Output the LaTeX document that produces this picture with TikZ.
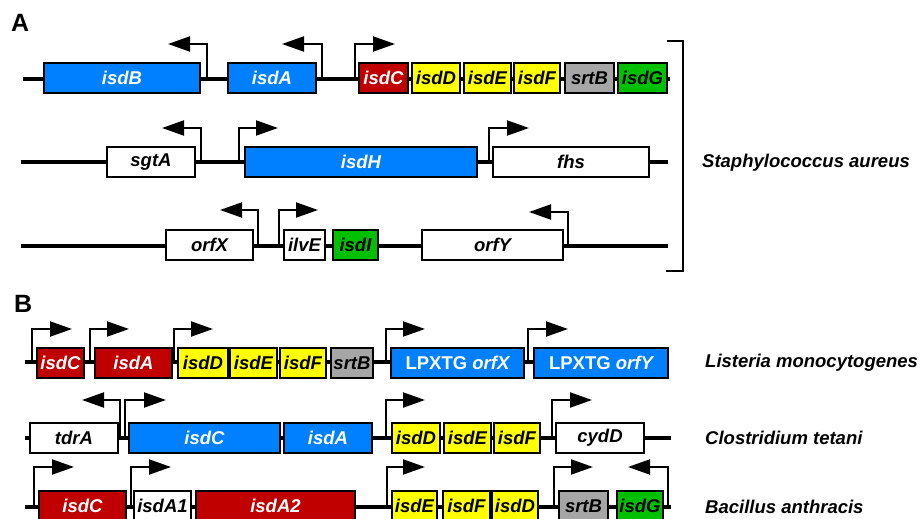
\documentclass[tikz,border=0pt]{standalone}
\usepackage{fontspec}
\setmainfont{Liberation Sans}
\usetikzlibrary{arrows.meta}
\definecolor{gblue}{RGB}{0,128,255}
\definecolor{gred}{RGB}{192,0,0}
\definecolor{gyellow}{RGB}{255,255,0}
\definecolor{ggreen}{RGB}{0,192,0}
\definecolor{ggray}{RGB}{166,166,166}
\newcommand\gbox[6]{\node[genebox,#5,minimum width={(#3-#2)*1pt}] (#1) at ({(#2+#3)/2},#4) {#6};}
\newcommand\prom[5]{\coordinate (#1b) at (#2,#3); \coordinate (#1t) at (#4,#5); \draw[promarrow] (#1b) |- (#1t);}
\newcommand\chrom[4]{\coordinate (#1s) at (#2,#4); \coordinate (#1e) at (#3,#4); \draw[chromline] (#1s) -- (#1e);}
\begin{document}
\begin{tikzpicture}[x=1pt,y=-1pt,
  genebox/.style={draw=black,line width=1.8pt,minimum height=30pt,inner sep=0pt,
    font=\fontsize{18.5}{20}\selectfont\bfseries\itshape},
  blueg/.style={fill=gblue,text=white},
  redg/.style={fill=gred,text=white},
  yellowg/.style={fill=gyellow,text=black},
  greeng/.style={fill=ggreen,text=black},
  grayg/.style={fill=ggray,text=black},
  whiteg/.style={fill=white,text=black},
  promarrow/.style={line width=2pt,-{Triangle[length=22pt,width=15pt]}},
  chromline/.style={line width=3.5pt},
  species/.style={anchor=west,inner sep=0pt,font=\fontsize{18.5}{20}\selectfont\bfseries\itshape},
  panel/.style={anchor=north west,inner sep=0pt,font=\fontsize{25}{27}\selectfont\bfseries}]
\useasboundingbox (0,0) rectangle (921,519);
\clip (0,0) rectangle (921,519);
% panel labels
\node[panel] (pA) at (11,14) {A};
\node[panel] (pB) at (14,295) {B};
% ---------- Panel A, row 1
\chrom{r1}{23}{670}{79}
\prom{p11}{207}{79}{168}{44}
\prom{p12}{322}{79}{282}{44}
\prom{p13}{355}{79}{395}{44}
\gbox{a1}{44}{200}{78}{blueg}{isdB}
\gbox{a2}{228}{316}{78}{blueg}{isdA}
\gbox{a3}{359}{408}{78}{redg}{isdC}
\gbox{a4}{412}{460}{78}{yellowg}{isdD}
\gbox{a5}{464}{511}{78}{yellowg}{isdE}
\gbox{a6}{514}{560}{78}{yellowg}{isdF}
\gbox{a7}{565}{614}{78}{grayg}{srtB}
\gbox{a8}{618}{667}{78}{greeng}{isdG}
% row 2
\chrom{r2}{21}{668}{162}
\prom{p21}{201}{162}{162}{128}
\prom{p22}{239}{162}{278}{128}
\prom{p23}{489}{162}{529}{128}
\gbox{b1}{107}{195}{162}{whiteg}{sgtA}
\gbox{b2}{245}{477}{162}{blueg}{isdH}
\gbox{b3}{493}{649}{162}{whiteg}{fhs}
% row 3
\chrom{r3}{21}{668}{246}
\prom{p31}{258}{246}{220}{210}
\prom{p32}{279}{246}{318}{210}
\prom{p33}{568}{246}{529}{212}
\gbox{c1}{166}{253}{245}{whiteg}{orfX}
\gbox{c2}{284}{325}{245}{whiteg}{ilvE}
\gbox{c3}{333}{378}{245}{greeng}{isdI}
\gbox{c4}{422}{563}{245}{whiteg}{orfY}
% bracket
\coordinate (k1) at (667,41);
\coordinate (k2) at (683,41);
\coordinate (k3) at (683,271);
\coordinate (k4) at (666,271);
\draw[line width=2pt] (k1) -- (k2) -- (k3) -- (k4);
\node[species] (sA) at (702,163) {Staphylococcus aureus};
% ---------- Panel B, Listeria
\chrom{r4}{25}{669}{362}
\prom{p41}{32}{362}{72}{329}
\prom{p42}{90}{362}{129}{329}
\prom{p43}{174}{362}{213}{329}
\prom{p44}{386}{362}{425}{329}
\prom{p45}{528}{362}{568}{329}
\gbox{d1}{37}{84}{363}{redg}{isdC}
\gbox{d2}{95}{172}{363}{redg}{isdA}
\gbox{d3}{178}{228}{363}{yellowg}{isdD}
\gbox{d4}{230}{277}{363}{yellowg}{isdE}
\gbox{d5}{280}{326}{363}{yellowg}{isdF}
\gbox{d6}{331}{373}{363}{grayg}{srtB}
\gbox{d7}{391}{524}{363}{blueg}{{\upshape LPXTG} orfX}
\gbox{d8}{534}{668}{363}{blueg}{{\upshape LPXTG} orfY}
\node[species] (sL) at (705,363) {Listeria monocytogenes};
% Clostridium
\chrom{r5}{25}{671}{438}
\prom{p51}{120}{438}{82}{400}
\prom{p52}{125}{438}{166}{400}
\prom{p53}{386}{438}{425}{400}
\prom{p54}{552}{438}{592}{400}
\gbox{e1}{30}{118}{438}{whiteg}{tdrA}
\gbox{e2}{129}{280}{438}{blueg}{isdC}
\gbox{e3}{284}{372}{438}{blueg}{isdA}
\gbox{e4}{392}{440}{438}{yellowg}{isdD}
\gbox{e5}{444}{491}{438}{yellowg}{isdE}
\gbox{e6}{494}{540}{438}{yellowg}{isdF}
\gbox{e7}{556}{644}{438}{whiteg}{cydD}
\node[species] (sC) at (705,438) {Clostridium tetani};
% Bacillus
\chrom{r6}{25}{671}{507}
\prom{p61}{34}{507}{74}{467}
\prom{p62}{131}{507}{171}{467}
\prom{p63}{387}{507}{425}{467}
\prom{p64}{554}{507}{593}{467}
\prom{p65}{668}{507}{628}{467}
\gbox{f1}{39}{126}{506}{redg}{isdC}
\gbox{f2}{134}{191}{506}{whiteg}{isdA1}
\gbox{f3}{196}{355}{506}{redg}{isdA2}
\gbox{f4}{392}{437}{506}{yellowg}{isdE}
\gbox{f5}{443}{490}{506}{yellowg}{isdF}
\gbox{f6}{492}{538}{506}{yellowg}{isdD}
\gbox{f7}{559}{608}{506}{grayg}{srtB}
\gbox{f8}{617}{663}{506}{greeng}{isdG}
\node[species] (sB) at (705,507) {Bacillus anthracis};
\end{tikzpicture}
\end{document}
